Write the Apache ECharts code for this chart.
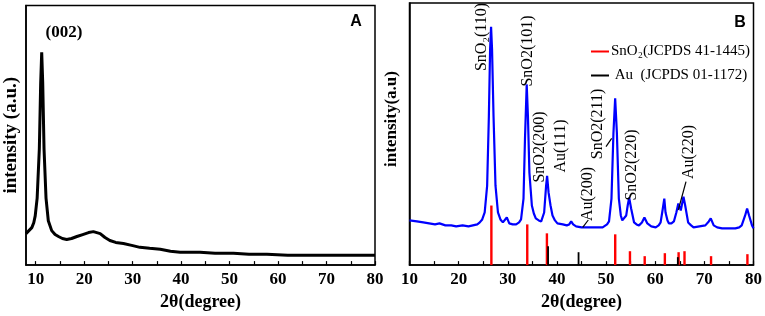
<!DOCTYPE html>
<html>
<head>
<meta charset="utf-8">
<script src="https://cdn.jsdelivr.net/npm/echarts@6/dist/echarts.min.js"></script>
<style>
  html, body { margin: 0; padding: 0; background: #fff; }
  #main { width: 765px; height: 316px; }
</style>
</head>
<body>
<div id="main"></div>
<script>
// 面板A：GO 的 XRD 曲线  [2θ, intensity]
var goCurve = [
  [8, 32], [8.6, 35], [9.2, 38], [9.6, 43], [9.9, 50], [10.3, 68], [10.75, 118], [11.03, 185],
  [11.24, 216], [11.45, 185], [11.72, 118], [12.13, 68], [12.6, 45], [13.3, 35], [14, 31],
  [14.7, 29], [15.5, 27], [16.4, 26], [17.4, 27], [18.5, 29], [19.7, 31], [20.9, 33], [21.9, 34],
  [22.6, 33], [23.3, 32], [24.3, 28], [25.3, 25], [26.5, 23], [28.1, 22], [29.8, 20], [31.5, 18],
  [33.5, 17], [35.7, 16], [37.8, 14], [39.8, 13], [42, 13], [43.9, 13], [47, 12], [50.8, 12],
  [54, 11], [57.7, 11], [62, 10], [66, 10], [71.4, 10], [75, 10], [80, 10]
];

// 面板B：Au/SnO2 的 XRD 曲线
var auSnCurve = [
  [10, 45], [11.5, 44], [12.8, 43], [14, 42], [15.2, 41], [16.1, 42], [17.3, 40], [18.5, 40],
  [19.5, 39], [20.8, 40], [22, 39], [22.9, 40], [23.8, 41], [24.3, 43], [24.8, 46], [25.3, 53],
  [25.8, 80], [26.15, 150], [26.4, 217], [26.6, 240], [26.8, 217], [27.1, 150], [27.5, 80],
  [28.0, 53], [28.5, 46], [29.0, 43], [29.4, 45], [29.8, 48], [30.3, 42], [31.0, 41], [31.7, 41],
  [32.3, 43], [32.7, 46], [33.2, 67], [33.5, 127], [33.85, 182], [34.1, 150], [34.4, 93],
  [34.9, 60], [35.3, 52], [35.7, 47], [36.3, 45], [36.8, 44], [37.4, 53], [37.8, 80], [38.0, 90],
  [38.3, 73], [38.7, 60], [39.1, 50], [39.6, 45], [40.1, 42], [41.2, 41], [42.0, 40], [42.5, 41],
  [42.9, 44], [43.3, 41], [43.9, 39], [45, 38], [46.6, 38], [48, 38], [49.3, 38], [50.2, 41],
  [50.6, 44], [51.1, 67], [51.5, 133], [51.85, 168], [52.2, 133], [52.6, 67], [53.0, 50],
  [53.3, 45], [53.7, 46], [54.1, 50], [54.4, 60], [54.7, 68], [55.1, 57], [55.7, 43], [56.2, 41],
  [56.7, 40], [57.3, 43], [57.8, 48], [58.4, 42], [59.2, 39], [60.1, 38], [60.7, 40], [61.1, 43],
  [61.55, 57], [61.85, 67], [62.1, 53], [62.5, 45], [62.8, 42], [63.3, 42], [63.8, 44], [64.3, 53],
  [64.7, 62], [65.2, 55], [65.75, 69], [66.1, 60], [66.7, 43], [67.3, 40], [67.8, 38], [69, 39],
  [70.2, 40], [70.9, 44], [71.3, 47], [71.9, 40], [72.6, 38], [73.6, 37], [75, 37], [76.3, 37],
  [77.1, 38], [77.6, 40], [78.3, 50], [78.7, 57], [79.1, 50], [79.7, 40], [80, 37]
];

// 标准卡片峰位
var sno2Ref = [[26.6, 60], [33.9, 41], [37.9, 32], [51.8, 31], [54.8, 14], [57.8, 9],
  [61.9, 12], [64.7, 13], [65.9, 14], [71.3, 9], [78.7, 11]];
var auRef = [[38.2, 19], [44.4, 13], [64.6, 8]];

var tickVals = [10, 15, 20, 25, 30, 35, 40, 45, 50, 55, 60, 65, 70, 75, 80];
var labelVals = [10, 20, 30, 40, 50, 60, 70, 80];

var sno2Name = 'SnO\u2082(JCPDS 41-1445)';
var auName = ' Au  (JCPDS 01-1172)';

var serif = '"Liberation Serif", "Times New Roman", serif';

var chart = echarts.init(document.getElementById('main'));

function xAxisOf(idx, min) {
  return {
    type: 'value',
    gridIndex: idx,
    min: min,
    max: 80,
    name: '2\u03b8(degree)',
    nameLocation: 'middle',
    nameGap: 22,
    nameTextStyle: { fontFamily: serif, fontWeight: 'bold', fontSize: 18, color: '#000' },
    axisLine: { show: true, lineStyle: { color: '#000', width: 1.5 } },
    axisTick: { show: true, inside: true, length: 4, customValues: tickVals, lineStyle: { color: '#000', width: 1.2 } },
    axisLabel: { customValues: labelVals, fontFamily: serif, fontWeight: 'bold', fontSize: 17, color: '#000', margin: 6 },
    splitLine: { show: false }
  };
}

function yAxisOf(idx, max, name) {
  return {
    type: 'value',
    gridIndex: idx,
    min: 0,
    max: max,
    name: name,
    nameLocation: 'middle',
    nameGap: 5,
    nameTextStyle: { fontFamily: serif, fontWeight: 'bold', fontSize: 19, color: '#000' },
    axisLine: { show: true, lineStyle: { color: '#000', width: 1.5 } },
    axisTick: { show: false },
    axisLabel: { show: false },
    splitLine: { show: false }
  };
}

function vText(txt, x, y, font) {
  return {
    type: 'text', x: x, y: y, rotation: Math.PI / 2, z: 100,
    style: { text: txt, font: font || ('16px ' + serif), fill: '#000', align: 'center', verticalAlign: 'middle' }
  };
}

function leader(x1, y1, x2, y2) {
  return {
    type: 'line', z: 100,
    shape: { x1: x1, y1: y1, x2: x2, y2: y2 },
    style: { stroke: '#000', lineWidth: 1.2 }
  };
}

var option = {
  backgroundColor: '#fff',
  animation: false,
  grid: [
    { left: 26, top: 5.5, width: 349, height: 263.5, show: true, borderColor: '#000', borderWidth: 1.5 },
    { left: 409.5, top: 3, width: 344.5, height: 264, show: true, borderColor: '#000', borderWidth: 1.5 }
  ],
  xAxis: [xAxisOf(0, 8), xAxisOf(1, 10)],
  yAxis: [yAxisOf(0, 263.5, 'intensity (a.u.)'), yAxisOf(1, 264, '')],
  legend: {
    data: [sno2Name, auName],
    orient: 'vertical',
    left: 586,
    top: 39,
    itemWidth: 18,
    itemHeight: 2,
    itemGap: 9,
    icon: 'rect',
    textStyle: { fontFamily: serif, fontSize: 15, color: '#000', padding: [0, 0, 0, -3] }
  },
  series: [
    {
      type: 'line', xAxisIndex: 0, yAxisIndex: 0, data: goCurve,
      symbol: 'none', lineStyle: { color: '#000', width: 3 }
    },
    {
      type: 'line', xAxisIndex: 1, yAxisIndex: 1, data: auSnCurve,
      symbol: 'none', lineStyle: { color: '#0000ff', width: 2.2 }
    },
    {
      name: sno2Name, type: 'bar', xAxisIndex: 1, yAxisIndex: 1, data: sno2Ref,
      barWidth: 2.4, barGap: '-100%', itemStyle: { color: '#ff0000' }
    },
    {
      name: auName, type: 'bar', xAxisIndex: 1, yAxisIndex: 1, data: auRef,
      barWidth: 1.8, barGap: '-100%', itemStyle: { color: '#000' }
    }
  ],
  graphic: [
    { type: 'text', x: 356, y: 22, z: 100, style: { text: 'A', font: 'bold 16px "Liberation Sans", Arial, sans-serif', fill: '#000', align: 'center', verticalAlign: 'middle' } },
    { type: 'text', x: 740, y: 23, z: 100, style: { text: 'B', font: 'bold 16px "Liberation Sans", Arial, sans-serif', fill: '#000', align: 'center', verticalAlign: 'middle' } },
    { type: 'text', x: 64, y: 33, z: 100, style: { text: '(002)', font: 'bold 17px ' + serif, fill: '#000', align: 'center', verticalAlign: 'middle' } },
    vText('intensity(a.u)', 392, 119, 'bold 17px ' + serif),
    vText('SnO\u2082(110)', 482, 37),
    vText('SnO2(101)', 528, 51),
    vText('SnO2(200)', 540, 147),
    vText('Au(111)', 561, 146),
    vText('Au(200)', 588, 194),
    vText('SnO2(211)', 598, 124),
    vText('SnO2(220)', 632, 165),
    vText('Au(220)', 689, 152),
    leader(582.7, 227.3, 588.3, 220),
    leader(606, 146.7, 611.7, 138.3),
    leader(678.3, 210, 686, 181.7)
  ]
};

chart.setOption(option);
window.addEventListener('resize', function () {
  chart.resize();
});
</script>
</body>
</html>
